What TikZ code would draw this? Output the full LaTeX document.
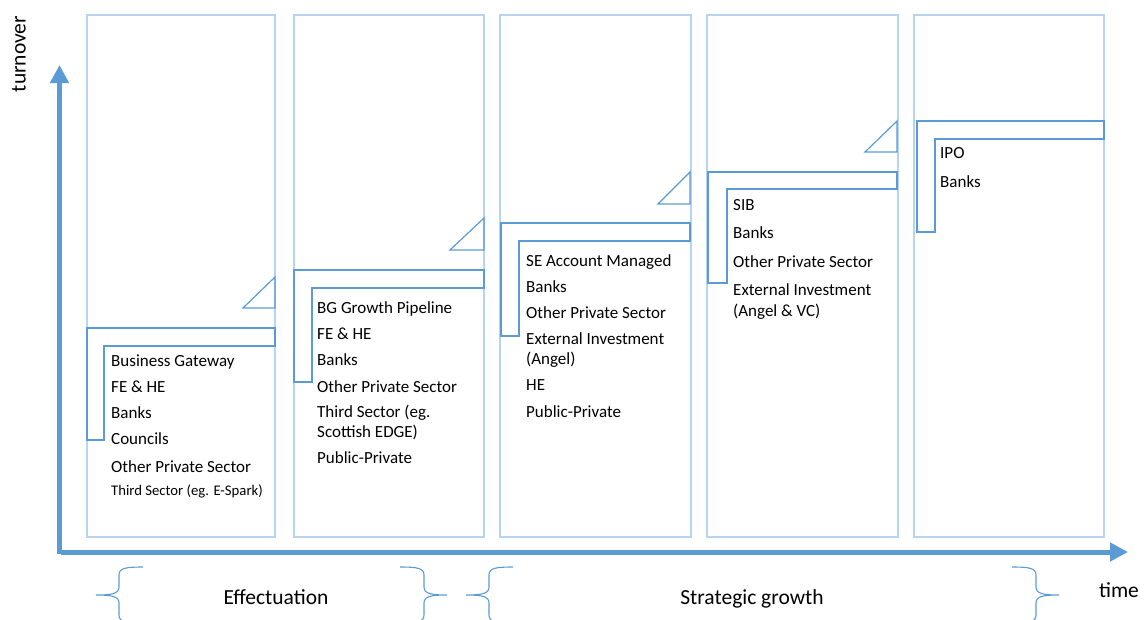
\documentclass[tikz,border=0pt]{standalone}
\usepackage{fontspec}
\setmainfont{Carlito}
\usetikzlibrary{arrows.meta}
\definecolor{axisblue}{RGB}{91,155,213}
\definecolor{panelblue}{RGB}{184,212,238}
\begin{document}
\begin{tikzpicture}[x=1pt,y=-1pt,
  panel/.style={draw=panelblue,line width=1.6pt},
  stepline/.style={draw=axisblue,line width=1.2pt,line join=miter},
  axis/.style={draw=axisblue,line width=5pt,-{Triangle[width=18pt,length=18pt]}},
  bracestyle/.style={draw=axisblue,line width=1.1pt},
  item/.style={anchor=base west,inner sep=0pt,font=\fontsize{17}{20}\selectfont},
  smallitem/.style={anchor=base west,inner sep=0pt,font=\fontsize{14.7}{17}\selectfont},
  biglabel/.style={anchor=base,inner sep=0pt,font=\fontsize{21.5}{24}\selectfont},
  pics/curly/.style={code={
    \draw[bracestyle] (47,-28) .. controls (30,-28) and (23,-27) .. (23,-20)
      -- (23,-8) .. controls (23,-1) and (15,0) .. (0,0)
      .. controls (15,0) and (23,1) .. (23,8)
      -- (23,20) .. controls (23,27) and (30,28) .. (47,28);}}
]
\useasboundingbox (0,0) rectangle (1145,619);

% panels
\draw[panel] (87,15) rectangle (275,537);
\draw[panel] (294,15) rectangle (484,537);
\draw[panel] (500,15) rectangle (691,537);
\draw[panel] (707,15) rectangle (898,537);
\draw[panel] (914,15) rectangle (1104,537);

% steps
\draw[stepline] (87,328) -- (275,328) -- (275,346) -- (104,346) -- (104,440) -- (87,440) -- cycle;
\draw[stepline] (294,270) -- (484,270) -- (484,288) -- (312,288) -- (312,382) -- (294,382) -- cycle;
\draw[stepline] (501,223) -- (690,223) -- (690,241) -- (519,241) -- (519,336) -- (501,336) -- cycle;
\draw[stepline] (708,172) -- (897,172) -- (897,189) -- (727,189) -- (727,283) -- (708,283) -- cycle;
\draw[stepline] (917,121) -- (1104,121) -- (1104,139) -- (935,139) -- (935,232) -- (917,232) -- cycle;

% triangles
\draw[stepline] (243,308) -- (275,308) -- (275,277) -- cycle;
\draw[stepline] (450,250) -- (484,250) -- (484,218) -- cycle;
\draw[stepline] (658,204) -- (690,204) -- (690,172) -- cycle;
\draw[stepline] (865,152) -- (897,152) -- (897,121) -- cycle;

% axes
\coordinate (yorigin) at (59.5,554);
\coordinate (ytip) at (59.5,65);
\coordinate (xorigin) at (61,552);
\coordinate (xtip) at (1128,552);
\draw[axis] (yorigin) -- (ytip);
\draw[axis] (xorigin) -- (xtip);

\node[biglabel,rotate=90] (turnover) at (25.5,54) {turnover};
\node[biglabel] (time) at (1119,597) {time};

% braces
\pic at (96,595) {curly};
\pic[xscale=-1] at (447,595) {curly};
\pic at (466,595) {curly};
\pic[xscale=-1] at (1059,595) {curly};
\node[biglabel] (effect) at (276,604) {Effectuation};
\node[biglabel] (strat) at (752,604) {Strategic growth};

% panel 1 texts
\node[item] (a1) at (111,366.5) {Business Gateway};
\node[item] (a2) at (111,392.5) {FE \& HE};
\node[item] (a3) at (111,418.5) {Banks};
\node[item] (a4) at (111,444.5) {Councils};
\node[item] (a5) at (111,472.5) {Other Private Sector};
\node[smallitem] (a6) at (111,495.7) {Third Sector (eg. E-Spark)};

% panel 2 texts
\node[item] (b1) at (317,313.5) {BG Growth Pipeline};
\node[item] (b2) at (317,339.5) {FE \& HE};
\node[item] (b3) at (317,365.5) {Banks};
\node[item] (b4) at (317,392.5) {Other Private Sector};
\node[item] (b5) at (317,417.5) {Third Sector (eg.};
\node[item] (b6) at (317,437.5) {Scottish EDGE)};
\node[item] (b7) at (317,463.5) {Public-Private};

% panel 3 texts
\node[item] (c1) at (526,266.5) {SE Account Managed};
\node[item] (c2) at (526,292.5) {Banks};
\node[item] (c3) at (526,318.5) {Other Private Sector};
\node[item] (c4) at (526,344.5) {External Investment};
\node[item] (c5) at (526,364.5) {(Angel)};
\node[item] (c6) at (526,390.5) {HE};
\node[item] (c7) at (526,417.5) {Public-Private};

% panel 4 texts
\node[item] (d1) at (733,210) {SIB};
\node[item] (d2) at (733,238.5) {Banks};
\node[item] (d3) at (733,267) {Other Private Sector};
\node[item] (d4) at (733,295.5) {External Investment};
\node[item] (d5) at (733,316) {(Angel \& VC)};

% panel 5 texts
\node[item] (e1) at (940,158.5) {IPO};
\node[item] (e2) at (940,187.5) {Banks};
\end{tikzpicture}
\end{document}
